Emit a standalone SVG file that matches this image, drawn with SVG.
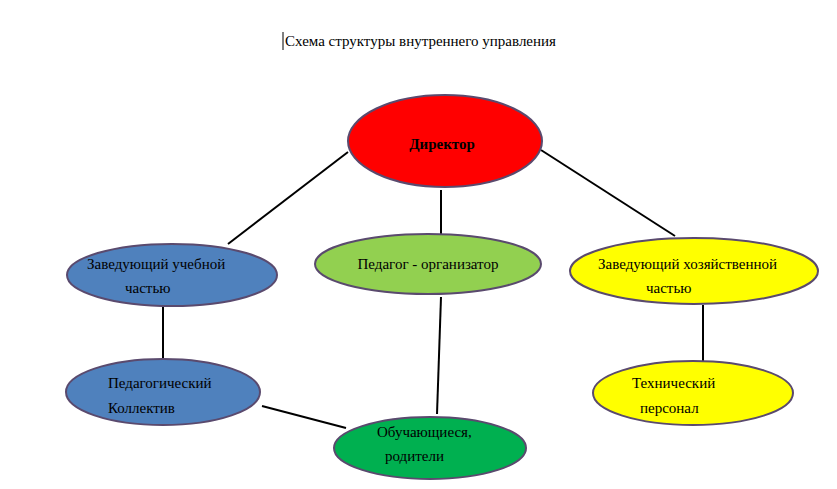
<svg xmlns="http://www.w3.org/2000/svg" width="837" height="489" viewBox="0 0 837 489">
<style>
text{font-family:"Liberation Serif","Times New Roman",serif;font-size:15px;fill:#000}
.n{stroke:#5a4a6e;stroke-width:2}
.c line{stroke:#000;stroke-width:2}
</style>
<rect width="837" height="489" fill="#fff"/>
<line x1="283" y1="32" x2="283" y2="50" stroke="#000" stroke-width="1"/>
<text x="285" y="46" font-size="16">Схема структуры внутреннего управления</text>
<g class="c">
<line x1="348" y1="152" x2="228" y2="244"/>
<line x1="441" y1="190" x2="441" y2="236"/>
<line x1="541" y1="150" x2="675" y2="236"/>
<line x1="163" y1="306" x2="163" y2="360"/>
<line x1="441" y1="297" x2="437" y2="414"/>
<line x1="262" y1="406" x2="346" y2="428"/>
<line x1="703" y1="305" x2="703" y2="362"/>
</g>
<g id="director"><ellipse class="n" cx="445" cy="141" rx="97" ry="46" fill="#ff0000"/>
<text x="442" y="149" text-anchor="middle" font-size="22" font-weight="bold" fill="#5a0a0a">Директор</text></g>
<g id="zav-ucheb"><ellipse class="n" cx="172" cy="275" rx="105" ry="31" fill="#4f81bd"/>
<text x="87" y="269">Заведующий учебной</text><text x="125" y="293">частью</text></g>
<g id="pedagog"><ellipse class="n" cx="428" cy="264" rx="113" ry="30" fill="#92d050"/>
<text x="428" y="269" text-anchor="middle">Педагог - организатор</text></g>
<g id="zav-hoz"><ellipse class="n" cx="694" cy="271" rx="124" ry="33" fill="#ffff00"/>
<text x="598" y="269">Заведующий хозяйственной</text><text x="646" y="293">частью</text></g>
<g id="kollektiv"><ellipse class="n" cx="163" cy="392" rx="97" ry="33" fill="#4f81bd"/>
<text x="108" y="388">Педагогический</text><text x="108" y="413">Коллектив</text></g>
<g id="students"><ellipse class="n" cx="430" cy="448" rx="96" ry="31" fill="#00b050"/>
<text x="377" y="437">Обучающиеся,</text><text x="385" y="461">родители</text></g>
<g id="tech"><ellipse class="n" cx="693" cy="393" rx="100" ry="32" fill="#ffff00"/>
<text x="632" y="388">Технический</text><text x="640" y="413">персонал</text></g>
</svg>
